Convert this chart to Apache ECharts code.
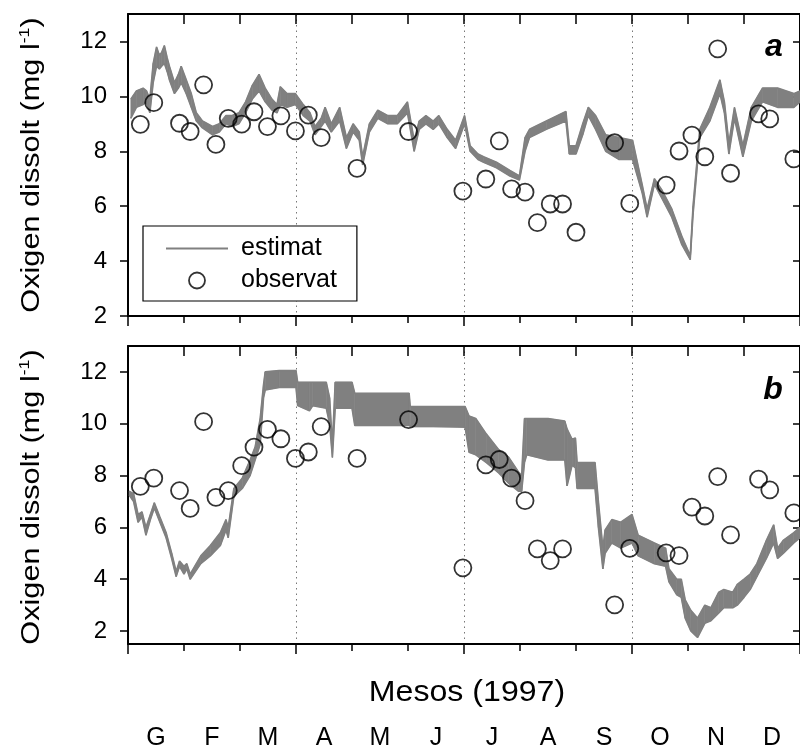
<!DOCTYPE html>
<html><head><meta charset="utf-8">
<script src="https://cdn.jsdelivr.net/npm/echarts@6/dist/echarts.min.js"></script>
<style>html,body{margin:0;padding:0;background:#fff}#c{width:800px;height:751px}</style>
</head><body><div id="c"></div>
<script>
// ---------- data ----------
const monthLetters = ['G','F','M','A','M','J','J','A','S','O','N','D'];
const yTicks = [2,4,6,8,10,12];

// panel a: estimated (envelope of the daily oscillation), x in months from 1 Jan
const xEstA = [0.05,0.15,0.27,0.33,0.39,0.45,0.51,0.56,0.60,0.65,0.70,0.74,0.83,0.90,0.95,1.04,1.13,1.22,1.33,1.51,1.63,1.75,1.86,1.98,2.10,2.22,2.34,2.45,2.57,2.66,2.72,2.84,2.99,3.13,3.25,3.34,3.45,3.52,3.63,3.78,3.90,4.02,4.13,4.19,4.31,4.46,4.64,4.81,4.99,5.11,5.20,5.32,5.45,5.55,5.70,5.85,6.01,6.11,6.25,6.35,6.58,6.82,6.99,7.09,7.17,7.47,7.82,7.88,8.00,8.12,8.22,8.35,8.53,8.77,9.01,9.18,9.27,9.40,9.53,9.71,9.89,10.04,10.09,10.21,10.39,10.57,10.65,10.73,10.83,10.98,11.13,11.33,11.60,11.89,12.0];
const loA = [9.2,9.6,9.7,9.8,9.4,10.5,11.1,11.0,11.1,11.2,10.9,10.6,10.1,10.3,10.5,10.1,9.6,9.1,8.85,8.6,8.7,9.0,8.9,9.0,9.4,9.9,10.2,9.8,9.5,9.4,9.7,9.6,9.7,9.3,9.1,8.6,8.9,9.1,8.7,9.1,8.1,8.7,8.4,7.5,8.7,9.2,9.0,9.0,9.4,8.0,8.8,9.0,8.8,9.0,8.5,8.1,9.0,8.0,7.7,7.6,7.4,7.1,6.95,8.0,8.5,8.8,9.1,7.9,7.9,8.6,9.3,8.8,8.0,7.7,7.7,6.5,5.6,6.8,6.3,5.6,4.6,4.05,5.7,8.5,9.1,10.1,9.4,7.9,9.2,7.8,9.1,9.8,9.6,9.6,9.8];
const hiA = [9.9,10.2,10.3,10.2,9.9,11.2,11.8,11.5,11.6,11.85,11.4,11.1,10.5,10.8,11.1,10.6,10.1,9.4,9.1,8.9,9.0,9.3,9.3,9.4,9.8,10.4,10.8,10.3,9.9,9.7,10.35,10.1,10.1,9.7,9.4,8.9,9.2,9.6,9.0,9.6,8.5,9.0,8.7,7.8,9.0,9.5,9.3,9.3,9.8,8.4,9.1,9.3,9.1,9.3,8.8,8.4,9.3,8.2,7.9,7.8,7.6,7.3,7.1,8.5,8.8,9.1,9.45,8.2,8.2,9.0,9.6,9.3,8.6,8.5,8.4,6.8,5.9,7.0,6.6,5.9,4.9,4.2,6.0,8.8,9.6,10.6,9.8,8.3,9.6,8.2,9.6,10.3,10.3,10.1,10.2];

// panel b: estimated envelope
const xEstB = [0.02,0.10,0.18,0.25,0.32,0.40,0.47,0.57,0.68,0.78,0.86,0.92,1.00,1.05,1.11,1.30,1.47,1.65,1.75,1.79,1.89,2.04,2.18,2.27,2.36,2.42,2.45,2.70,3.00,3.03,3.24,3.30,3.54,3.60,3.65,3.70,4.00,4.05,5.02,5.04,6.02,6.09,6.21,6.40,6.62,6.80,6.97,7.03,7.08,7.12,7.50,7.80,7.84,7.93,7.99,8.02,8.34,8.40,8.48,8.52,8.64,8.80,9.00,9.11,9.40,9.60,9.66,9.80,9.88,9.95,10.05,10.17,10.30,10.41,10.55,10.64,10.80,10.88,11.00,11.11,11.23,11.40,11.53,11.60,11.70,11.89,12.0];
const loB = [7.25,7.0,6.2,6.4,5.7,6.3,6.75,6.2,5.6,4.8,4.1,4.5,4.2,4.4,4.0,4.6,4.9,5.3,5.9,5.6,7.2,7.5,8.0,8.6,9.2,11.0,11.3,11.4,11.4,10.7,10.5,10.7,10.6,10.0,8.7,10.6,10.6,9.93,9.93,9.87,9.87,8.9,8.8,8.5,8.1,7.7,7.4,7.4,8.5,8.8,8.6,8.6,7.6,8.4,8.3,7.5,7.5,6.0,4.4,5.0,5.4,5.2,5.4,4.9,4.6,4.5,3.9,3.4,3.3,2.5,2.0,1.75,2.3,2.4,2.7,2.9,2.9,3.0,3.3,3.6,4.1,4.8,5.4,4.8,5.0,5.4,5.6];
const hiB = [7.4,7.3,6.5,6.6,6.0,6.5,6.95,6.4,5.8,5.0,4.3,4.7,4.5,4.6,4.2,4.9,5.3,5.8,6.3,6.0,7.5,7.9,8.6,9.1,10.2,11.5,12.0,12.05,12.05,11.6,11.6,11.6,11.6,11.0,9.2,11.6,11.6,11.17,11.17,10.66,10.66,10.3,10.2,9.6,9.0,8.7,8.15,8.0,10.2,10.2,10.2,10.1,9.8,9.4,9.45,8.5,8.5,7.0,5.2,5.9,6.3,6.2,6.5,5.7,5.4,5.2,4.4,4.0,4.0,3.2,2.8,2.5,3.0,2.9,3.5,3.6,3.5,3.8,4.0,4.2,4.6,5.5,6.1,5.2,5.5,5.8,6.0];

// observed samples (same dates in both panels)
const xObs = [0.22,0.46,0.92,1.11,1.35,1.57,1.79,2.03,2.25,2.49,2.73,2.99,3.22,3.45,4.09,5.01,5.98,6.39,6.63,6.85,7.09,7.31,7.54,7.76,8.00,8.69,8.96,9.61,9.84,10.07,10.30,10.53,10.76,11.26,11.46,11.89];
const obsA = [8.98,9.77,9.02,8.72,10.42,8.25,9.20,8.99,9.44,8.90,9.29,8.74,9.32,8.50,7.38,8.72,6.55,6.99,8.38,6.63,6.51,5.40,6.08,6.08,5.05,8.31,6.10,6.77,8.01,8.59,7.80,11.73,7.20,9.36,9.18,7.72];
const obsB = [7.58,7.90,7.42,6.73,10.08,7.16,7.42,8.38,9.10,9.78,9.42,8.66,8.91,9.89,8.66,10.16,4.44,8.41,8.62,7.90,7.03,5.17,4.72,5.17,null,3.01,5.19,5.02,4.91,6.78,6.44,7.96,5.71,7.86,7.45,6.56];

// ---------- chart ----------
const FONT = "'Liberation Sans', Arial, Helvetica, sans-serif";
const GRAY = '#808080';
const pairs = (xs, ys) => xs.map((x, i) => [x, ys[i]]);

function bottomX(grid) {
  return {
    type: 'value', gridIndex: grid, position: 'bottom', min: 0, max: 12, interval: 3,
    axisLine: { show: true, onZero: false, lineStyle: { color: '#000', width: 2 } },
    axisTick: { show: true, inside: false, length: 10, lineStyle: { color: '#000', width: 1.5 } },
    minorTick: { show: true, splitNumber: 3, length: 7, lineStyle: { color: '#000', width: 1.5 } },
    axisLabel: { show: false },
    splitLine: { show: true, lineStyle: { color: '#777', width: 1, type: [1.5, 4] } },
    minorSplitLine: { show: false }
  };
}
function topX(grid) {
  return {
    type: 'value', gridIndex: grid, position: 'top', min: 0, max: 12, interval: 1,
    axisLine: { show: true, onZero: false, lineStyle: { color: '#000', width: 2 } },
    axisTick: { show: true, inside: true, length: 10, lineStyle: { color: '#000', width: 1.5 } },
    axisLabel: { show: false }, splitLine: { show: false }
  };
}
function leftY(grid, min) {
  return {
    type: 'value', gridIndex: grid, position: 'left', min: min, max: 13,
    axisLine: { show: true, onZero: false, lineStyle: { color: '#000', width: 2 } },
    axisTick: { show: true, inside: false, length: 8, customValues: yTicks, lineStyle: { color: '#000', width: 1.5 } },
    axisLabel: { show: true, customValues: yTicks, margin: 21, fontSize: 24, fontFamily: FONT, color: '#000' },
    splitLine: { show: false }
  };
}
function rightY(grid, min) {
  return {
    type: 'value', gridIndex: grid, position: 'right', min: min, max: 13,
    axisLine: { show: true, onZero: false, lineStyle: { color: '#000', width: 2 } },
    axisTick: { show: true, inside: true, length: 7, customValues: yTicks, lineStyle: { color: '#000', width: 1.5 } },
    axisLabel: { show: false }, splitLine: { show: false }
  };
}
function bandSeries(xi, yi, xs, lo, hi) {
  return [
    { name: 'estimat-band', type: 'custom', xAxisIndex: xi, yAxisIndex: yi, z: 2, silent: true, clip: true,
      data: xs.map((x, i) => [x, lo[i], hi[i]]),
      encode: { x: 0, y: [1, 2] },
      renderItem: function (params, api) {
        const i = params.dataIndex;
        if (i >= xs.length - 1) return null;
        const pts = [api.coord([xs[i], lo[i]]), api.coord([xs[i + 1], lo[i + 1]]),
                     api.coord([xs[i + 1], hi[i + 1]]), api.coord([xs[i], hi[i]])];
        return { type: 'polygon', shape: { points: pts }, style: { fill: GRAY, stroke: GRAY, lineWidth: 0.6 } };
      } },
    { name: 'estimat-lo', type: 'line', xAxisIndex: xi, yAxisIndex: yi,
      data: pairs(xs, lo), symbol: 'none', smooth: false, z: 3, color: GRAY,
      lineStyle: { color: GRAY, width: 1.6 } },
    { name: 'estimat', type: 'line', xAxisIndex: xi, yAxisIndex: yi,
      data: pairs(xs, hi), symbol: 'none', smooth: false, z: 3, color: GRAY,
      lineStyle: { color: GRAY, width: 1.6 } }
  ];
}
function obsSeries(xi, yi, ys) {
  return { name: 'observat', type: 'scatter', xAxisIndex: xi, yAxisIndex: yi,
    data: pairs(xObs, ys).filter(p => p[1] !== null), symbol: 'circle', symbolSize: 17, z: 5,
    itemStyle: { color: 'rgba(0,0,0,0)', borderColor: '#000', borderWidth: 1.8 } };
}

const chart = echarts.init(document.getElementById('c'), null, { renderer: 'canvas' });
chart.setOption({
  animation: false,
  backgroundColor: '#fff',
  grid: [
    { left: 128, top: 14, width: 678, height: 302, containLabel: false },
    { left: 128, top: 346, width: 678, height: 302, containLabel: false }
  ],
  xAxis: [
    bottomX(0), topX(0), bottomX(1), topX(1),
    { type: 'category', gridIndex: 1, position: 'bottom', offset: 0, data: monthLetters.map((m, i) => String(i)),
      boundaryGap: true, axisLine: { show: false }, axisTick: { show: false }, splitLine: { show: false },
      axisLabel: { show: true, interval: 0, margin: 82, fontSize: 25, lineHeight: 25, fontFamily: FONT, color: '#000',
        formatter: (v, i) => monthLetters[i] } }
  ],
  yAxis: [leftY(0, 2), rightY(0, 2), leftY(1, 1.5), rightY(1, 1.5)],
  legend: {
    show: true, orient: 'vertical', left: 143, top: 226,
    padding: [10, 20, 8, 23], itemGap: 7, itemWidth: 62, itemHeight: 16,
    borderColor: '#000', borderWidth: 1.2, backgroundColor: '#fff',
    textStyle: { fontSize: 25, lineHeight: 24, fontFamily: FONT, color: '#000', padding: [0, 0, 0, 8] },
    data: [
      { name: 'estimat', icon: 'path://M0,0L62,0L62,2L0,2Z', itemStyle: { color: GRAY, borderWidth: 0 } },
      { name: 'observat', icon: 'circle', itemStyle: { color: 'rgba(0,0,0,0)', borderColor: '#000', borderWidth: 1.8 } }
    ],
    selectedMode: false
  },
  series: [
    ...bandSeries(0, 0, xEstA, loA, hiA),
    obsSeries(0, 0, obsA),
    ...bandSeries(2, 2, xEstB, loB, hiB),
    obsSeries(2, 2, obsB)
  ],
  graphic: [
    { type: 'text', x: 774, y: 47, style: { text: 'a', fontSize: 32, fontWeight: 'bold', fontStyle: 'italic', fontFamily: FONT, fill: '#000', align: 'center', verticalAlign: 'middle' } },
    { type: 'text', x: 773, y: 390, style: { text: 'b', fontSize: 32, fontWeight: 'bold', fontStyle: 'italic', fontFamily: FONT, fill: '#000', align: 'center', verticalAlign: 'middle' } },
    { type: 'text', x: 32, y: 165, rotation: Math.PI / 2, scaleX: 1.18,
      style: { text: 'Oxigen dissolt (mg l{s|-1})', fontSize: 26, lineHeight: 30, fontFamily: FONT, fill: '#000', align: 'center', verticalAlign: 'middle',
        rich: { s: { fontSize: 15, lineHeight: 16, verticalAlign: 'top', fontFamily: FONT, fill: '#000' } } } },
    { type: 'text', x: 32, y: 497, rotation: Math.PI / 2, scaleX: 1.18,
      style: { text: 'Oxigen dissolt (mg l{s|-1})', fontSize: 26, lineHeight: 30, fontFamily: FONT, fill: '#000', align: 'center', verticalAlign: 'middle',
        rich: { s: { fontSize: 15, lineHeight: 16, verticalAlign: 'top', fontFamily: FONT, fill: '#000' } } } },
    { type: 'text', x: 467, y: 693, scaleX: 1.07,
      style: { text: 'Mesos (1997)', fontSize: 30, fontFamily: FONT, fill: '#000', align: 'center', verticalAlign: 'middle' } }
  ]
});
</script></body></html>
